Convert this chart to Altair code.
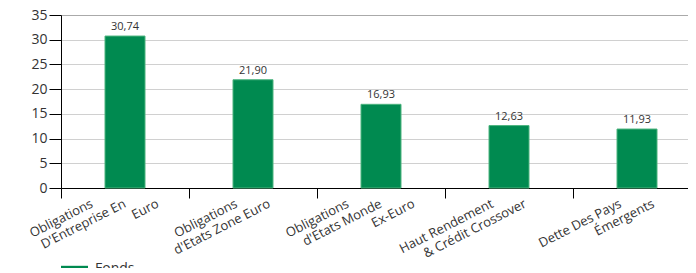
import altair as alt
import pandas as pd

categories = [
    "Obligations D'Entreprise En Euro",
    "Obligations d'Etats Zone Euro",
    "Obligations d'Etats Monde Ex-Euro",
    "Haut Rendement & Crédit Crossover",
    "Dette Des Pays Émergents",
]
values = [30.74, 21.90, 16.93, 12.63, 11.93]
label_lines = [
    ["Obligations", "D'Entreprise En", "Euro"],
    ["Obligations", "d'Etats Zone Euro"],
    ["Obligations", "d'Etats Monde", "Ex-Euro"],
    ["Haut Rendement", "& Crédit Crossover"],
    ["Dette Des Pays", "Émergents"],
]
series_name = "Fonds"
y_ticks = [0, 5, 10, 15, 20, 25, 30, 35]

FONT = "Open Sans"
GREEN = "#008A50"

bars_df = pd.DataFrame({"cat": categories, "value": values, "series": series_name})

rows = []
for cat, lines in zip(categories, label_lines):
    n = len(lines)
    for i, line in enumerate(lines):
        rows.append({"cat": cat, "line": line, "idx": i, "n": n})
lab_df = pd.DataFrame(rows)

xscale = alt.Scale(domain=categories, paddingInner=0, paddingOuter=0, range=[0, 640])
yscale = alt.Scale(domain=[0, 35], nice=False)

x_axis = alt.Axis(
    title=None,
    labels=False,
    domainColor="#000",
    domainWidth=1,
    tickColor="#000",
    tickSize=10,
    tickBand="extent",
    bandPosition=0,
    grid=False,
)
y_axis = alt.Axis(
    title=None,
    values=y_ticks,
    labelOverlap=False,
    tickSize=12,
    tickColor="#000",
    domainColor="#000",
    labelFont=FONT,
    labelFontSize=14,
    labelColor="#333",
    labelPadding=2,
    gridColor={"condition": {"test": "datum.value === 35", "value": "#AAAAAA"}, "value": "#D0D0D0"},
    gridWidth=1,
)

X = alt.X("cat:N", sort=categories, scale=xscale, axis=x_axis)

bars = alt.Chart(bars_df).mark_bar(
    size=40, stroke="#4DB47F", strokeWidth=1
).encode(
    x=X,
    y=alt.Y("value:Q", scale=yscale, axis=y_axis),
    color=alt.Color(
        "series:N",
        scale=alt.Scale(range=[GREEN]),
        legend=alt.Legend(
            title=None,
            orient="none",
            legendX=0,
            legendY=240,
            symbolType="M-1,-0.2H1V0.2H-1Z",
            symbolSize=729,
            symbolStrokeWidth=0,
            labelFont=FONT,
            labelFontSize=14,
            labelColor="#333",
            labelOffset=7,
        ),
    ),
)

vals = alt.Chart(bars_df).mark_text(
    dy=-4, fontSize=11, font=FONT, color="#333", baseline="bottom"
).transform_calculate(
    txt="replace(format(datum.value, '.2f'), '.', ',')"
).encode(
    x=X,
    y=alt.Y("value:Q", scale=yscale, axis=y_axis),
    text="txt:N",
)

xlabels = alt.Chart(lab_df).mark_text(
    align="right", baseline="middle", fontSize=13, font=FONT, color="#333"
).transform_calculate(
    off="64 + 33 * (datum.idx - (datum.n - 1) / 2)"
).encode(
    x=X,
    xOffset=alt.XOffset("off:Q", scale=None),
    y=alt.value(188),
    angle=alt.value(-27),
    text="line:N",
)

chart = alt.layer(bars, vals, xlabels).properties(
    width=627,
    height=173,
    autosize=alt.AutoSizeParams(type="none"),
    padding={"left": 53, "top": 7, "right": 0, "bottom": 80},
).configure_view(stroke=None).configure(background="white")

chart.save("out.html", embed_options={"renderer": "svg", "actions": False})
